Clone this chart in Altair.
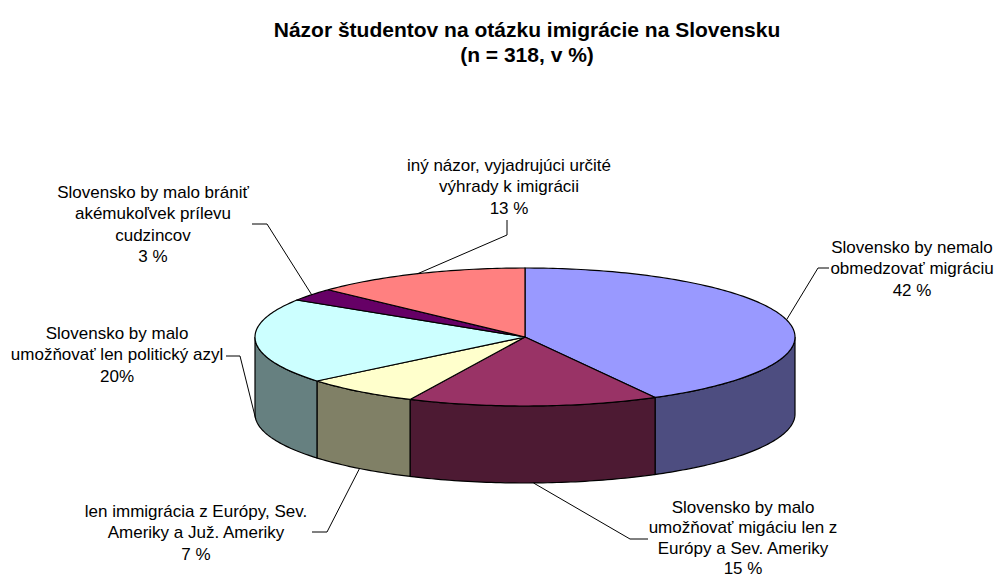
import math
import altair as alt
import pandas as pd

# ---------------- data ----------------
categories = [
    ["Slovensko by nemalo", "obmedzovať migráciu"],
    ["Slovensko by malo", "umožňovať migáciu len z", "Európy a Sev. Ameriky"],
    ["len immigrácia z Európy, Sev.", "Ameriky a Juž. Ameriky"],
    ["Slovensko by malo", "umožňovať len politický azyl"],
    ["Slovensko by malo brániť", "akémukoľvek prílevu", "cudzincov"],
    ["iný názor, vyjadrujúci určité", "výhrady k imigrácii"],
]
values = [42, 15, 7, 20, 3, 13]
value_labels = ["42 %", "15 %", "7 %", "20%", "3 %", "13 %"]
top_colors = ["#9999FF", "#993366", "#FFFFCC", "#CCFFFF", "#660066", "#FF8080"]
side_colors = ["#4D4D80", "#4D1A33", "#808066", "#668080", "#330033", "#804040"]
title_lines = ["Názor študentov na otázku imigrácie na Slovensku", "(n = 318, v %)"]

# ---------------- layout (pixels) ----------------
CX, CY, RX, RY, DEPTH = 525, 337, 270, 69, 77
label_x = [912, 743, 196, 117, 153, 509]
label_y0 = [248, 508, 512, 334, 193, 166]
label_dy = [21.3, 20.3, 21.3, 21.3, 21.3, 21.3]
leader_text = [(829, 268), (648, 539), (312, 532), (226, 356), (252, 224), (507, 220)]
leader_elbow = [(818, 268), (630, 539), (327, 532), (240, 356), (267, 224), (507, 235)]
title_x, title_y = 527, [31, 56]
FONT = "Liberation Sans"


def pt(theta, drop=0.0):
    t = math.radians(theta)
    return [CX + RX * math.sin(t), CY - RY * math.cos(t) + drop]


def arc(a0, a1, drop=0.0):
    n = max(2, int(math.ceil(abs(a1 - a0))) + 1)
    return [pt(a0 + (a1 - a0) * i / (n - 1), drop) for i in range(n)]


total = sum(values)
starts, ends = [], []
acc = 0.0
for v in values:
    starts.append(acc / total * 360)
    acc += v
    ends.append(acc / total * 360)

side_feats, top_feats, leader_feats = [], [], []
for i in range(len(values)):
    a0, a1 = starts[i], ends[i]
    s0, s1 = max(a0, 90), min(a1, 270)
    if s1 > s0:
        ring = arc(s0, s1) + arc(s1, s0, DEPTH)
        ring.append(ring[0])
        side_feats.append({"type": "Feature", "properties": {"fill": side_colors[i]},
                           "geometry": {"type": "Polygon", "coordinates": [ring]}})
    ring = [[CX, CY]] + arc(a0, a1) + [[CX, CY]]
    top_feats.append({"type": "Feature", "properties": {"fill": top_colors[i]},
                      "geometry": {"type": "Polygon", "coordinates": [ring]}})
    mid = (a0 + a1) / 2
    front = 90 < mid < 270
    edge = pt(mid, DEPTH if front else 0)
    leader_feats.append({"type": "Feature", "properties": {},
                         "geometry": {"type": "LineString",
                                      "coordinates": [list(leader_text[i]), list(leader_elbow[i]), edge]}})

label_rows = []
for i, lines in enumerate(categories):
    for j, line in enumerate(lines + [value_labels[i]]):
        label_rows.append({"lon": label_x[i], "lat": label_y0[i] + j * label_dy[i], "text": line})
title_rows = [{"lon": title_x, "lat": title_y[k], "text": t} for k, t in enumerate(title_lines)]

proj = dict(type="identity", scale=1, translate=[-8, -8])

sides = alt.Chart(alt.Data(values=side_feats)).mark_geoshape(
    stroke="black", strokeWidth=1.2
).encode(fill=alt.Fill("properties.fill:N", scale=None)).project(**proj)

tops = alt.Chart(alt.Data(values=top_feats)).mark_geoshape(
    stroke="black", strokeWidth=1.2
).encode(fill=alt.Fill("properties.fill:N", scale=None)).project(**proj)

leaders = alt.Chart(alt.Data(values=leader_feats)).mark_geoshape(
    filled=False, stroke="black", strokeWidth=1
).encode(strokeOpacity=alt.value(1)).project(**proj)

labels = alt.Chart(pd.DataFrame(label_rows)).mark_text(
    font=FONT, fontSize=17, color="black", align="center", baseline="middle"
).encode(longitude="lon:Q", latitude="lat:Q", text="text:N").project(**proj)

title = alt.Chart(pd.DataFrame(title_rows)).mark_text(
    font=FONT, fontSize=21, fontWeight="bold", color="black", align="center", baseline="middle"
).encode(longitude="lon:Q", latitude="lat:Q", text="text:N").project(**proj)

chart = alt.layer(sides, tops, leaders, labels, title).properties(
    width=986, height=572, padding=0, autosize="none", background="white"
).configure_view(stroke=None)

chart.save("out.html", embed_options={"renderer": "svg", "actions": False})
